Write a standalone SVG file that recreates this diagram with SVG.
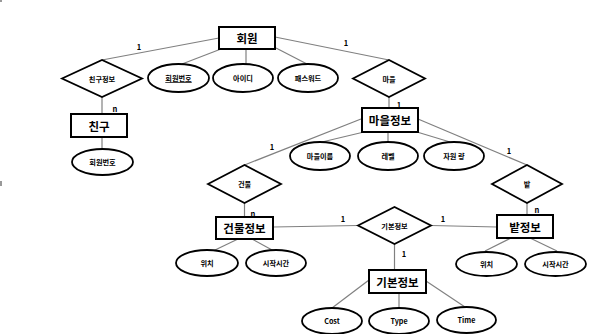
<svg xmlns="http://www.w3.org/2000/svg" width="602" height="334" viewBox="0 0 602 334">
<style>
.ent{fill:#fff;stroke:#000;stroke-width:2}
.att{fill:#fff;stroke:#000;stroke-width:1.8}
.rel{fill:#fff;stroke:#000;stroke-width:1.8}
.con line{stroke:#808080;stroke-width:1.2}
text{font-family:"Noto Sans CJK KR","Noto Sans",sans-serif;font-weight:bold;fill:#000;text-anchor:middle;dominant-baseline:central}
.t1{font-size:11.5px}
.t2{font-size:7.2px}
.t3{font-size:7.5px}
</style>
<rect x="0" y="0" width="602" height="334" fill="#fff"/>
<rect x="0" y="0" width="2" height="2" fill="#999"/>
<rect x="0" y="181" width="2" height="5" fill="#999"/>
<g id="connectors" class="con">
<line x1="219" y1="38" x2="102" y2="60"/>
<line x1="221" y1="49" x2="182" y2="64"/>
<line x1="246" y1="49" x2="246" y2="64"/>
<line x1="276" y1="48" x2="307" y2="64"/>
<line x1="275" y1="37" x2="389" y2="60"/>
<line x1="102" y1="97" x2="102" y2="114"/>
<line x1="102" y1="137" x2="102" y2="149"/>
<line x1="389" y1="97" x2="389" y2="108"/>
<line x1="364" y1="132" x2="322" y2="142"/>
<line x1="388" y1="132" x2="388" y2="142"/>
<line x1="417" y1="132" x2="450" y2="142"/>
<line x1="361" y1="119" x2="244.5" y2="165"/>
<line x1="418" y1="119" x2="527" y2="165"/>
<line x1="244.5" y1="203" x2="244.5" y2="217"/>
<line x1="527" y1="203" x2="527" y2="215"/>
<line x1="273" y1="227" x2="358" y2="225.5"/>
<line x1="431" y1="225.5" x2="497" y2="227"/>
<line x1="394.5" y1="244" x2="394.5" y2="270"/>
<line x1="238" y1="239" x2="214" y2="250.5"/>
<line x1="252" y1="239" x2="273" y2="250.5"/>
<line x1="369" y1="280" x2="332" y2="308"/>
<line x1="399" y1="293" x2="399" y2="308"/>
<line x1="426" y1="281" x2="465" y2="307"/>
<line x1="511" y1="238" x2="485" y2="251"/>
<line x1="530" y1="238" x2="557" y2="251"/>
</g>
<g id="labels-card">
<text class="t3" x="139" y="46">1</text>
<text class="t3" x="346" y="42">1</text>
<text class="t3" x="115" y="108">n</text>
<text class="t3" x="399" y="104">1</text>
<text class="t3" x="272" y="146">1</text>
<text class="t3" x="509" y="150">1</text>
<text class="t3" x="253" y="213">n</text>
<text class="t3" x="537" y="209">n</text>
<text class="t3" x="343" y="218">1</text>
<text class="t3" x="443" y="218">1</text>
<text class="t3" x="404" y="253">1</text>
</g>
<g id="n-member"><rect class="ent" x="219" y="27" width="56" height="22"/><text class="t1" x="247" y="38">회원</text></g>
<g id="n-friendrel"><polygon class="rel" points="62,78.5 102,60 142,78.5 102,97"/><text class="t2" x="102" y="78.5">친구정보</text></g>
<g id="n-memberno"><ellipse class="att" cx="178.5" cy="78" rx="30.5" ry="14"/><text class="t2" x="178.5" y="78" text-decoration="underline">회원번호</text></g>
<g id="n-id"><ellipse class="att" cx="243" cy="78" rx="30" ry="14"/><text class="t2" x="243" y="78">아이디</text></g>
<g id="n-pw"><ellipse class="att" cx="308" cy="78" rx="30" ry="14"/><text class="t2" x="308" y="78">패스워드</text></g>
<g id="n-villagerel"><polygon class="rel" points="353,78.5 389,60 425,78.5 389,97"/><text class="t2" x="389" y="78.5">마을</text></g>
<g id="n-friend"><rect class="ent" x="71" y="114" width="56" height="23"/><text class="t1" x="99" y="125.5">친구</text></g>
<g id="n-friendno"><ellipse class="att" cx="102.5" cy="162" rx="30.5" ry="13"/><text class="t2" x="102.5" y="162">회원번호</text></g>
<g id="n-village"><rect class="ent" x="362" y="108" width="56" height="24"/><text class="t1" x="390" y="120">마을정보</text></g>
<g id="n-vname"><ellipse class="att" cx="320" cy="156" rx="30" ry="14"/><text class="t2" x="320" y="156">마을이름</text></g>
<g id="n-level"><ellipse class="att" cx="388" cy="156" rx="30" ry="14"/><text class="t2" x="388" y="156">레벨</text></g>
<g id="n-res"><ellipse class="att" cx="454" cy="156" rx="30" ry="14"/><text class="t2" x="454" y="156">자원 량</text></g>
<g id="n-buildrel"><polygon class="rel" points="208,184 244.5,165 281,184 244.5,203"/><text class="t2" x="244.5" y="184">건물</text></g>
<g id="n-fieldrel"><polygon class="rel" points="492,184 527,165 562,184 527,203"/><text class="t2" x="527" y="184">밭</text></g>
<g id="n-building"><rect class="ent" x="216" y="217" width="57" height="22"/><text class="t1" x="244.5" y="228">건물정보</text></g>
<g id="n-field"><rect class="ent" x="497" y="215" width="56" height="23"/><text class="t1" x="525" y="226.5">밭정보</text></g>
<g id="n-baserel"><polygon class="rel" points="358,225.5 394.5,207 431,225.5 394.5,244"/><text class="t2" x="394.5" y="225.5">기본정보</text></g>
<g id="n-base"><rect class="ent" x="369" y="270" width="57" height="23"/><text class="t1" x="397.5" y="281.5">기본정보</text></g>
<g id="n-bpos"><ellipse class="att" cx="207" cy="263" rx="31" ry="13"/><text class="t2" x="207" y="263">위치</text></g>
<g id="n-bstart"><ellipse class="att" cx="276" cy="263" rx="30" ry="13"/><text class="t2" x="276" y="263">시작시간</text></g>
<g id="n-fpos"><ellipse class="att" cx="486.5" cy="264" rx="30.5" ry="12"/><text class="t2" x="486.5" y="264">위치</text></g>
<g id="n-fstart"><ellipse class="att" cx="555.5" cy="264" rx="30.5" ry="12"/><text class="t2" x="555.5" y="264">시작시간</text></g>
<g id="n-cost"><ellipse class="att" cx="332" cy="321" rx="30" ry="13"/><text class="t2" x="332" y="321">Cost</text></g>
<g id="n-type"><ellipse class="att" cx="399" cy="321" rx="30" ry="13"/><text class="t2" x="399" y="321">Type</text></g>
<g id="n-time"><ellipse class="att" cx="466.5" cy="320" rx="29.5" ry="13"/><text class="t2" x="466.5" y="320">Time</text></g>
</svg>
